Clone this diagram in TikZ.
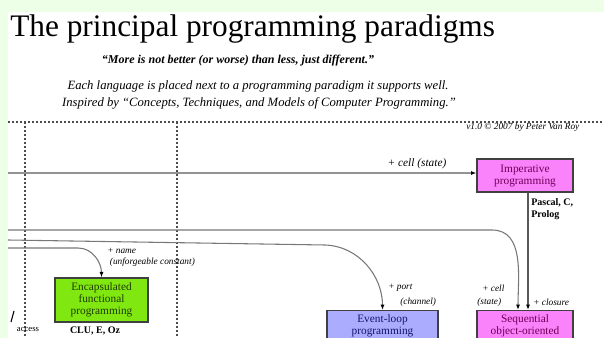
\documentclass[tikz,border=0pt]{standalone}
\usepackage{fontspec}
\setmainfont{Liberation Serif}
\usetikzlibrary{arrows.meta}

\definecolor{fon}{RGB}{238,255,232}
\definecolor{imper}{RGB}{250,130,250}
\definecolor{imperText}{RGB}{110,0,90}
\definecolor{encap}{RGB}{128,232,16}
\definecolor{encapText}{RGB}{30,60,0}
\definecolor{evloop}{RGB}{172,172,255}
\definecolor{evloopText}{RGB}{20,20,110}
\definecolor{linkGray}{RGB}{120,120,120}

\begin{document}
\begin{tikzpicture}[x=0.75pt, y=-0.75pt,
    paradigm/.style={draw=black!75, line width=1pt, align=center, inner ysep=3pt,
        font=\fontsize{8.5}{9}\selectfont},
    link/.style={draw=linkGray, line width=0.8pt, -{Latex[length=4pt,width=3pt,color=black]}},
    strong link/.style={link, line width=2.2pt, draw=gray!85},
    note/.style={font=\fontsize{7}{8}\selectfont\itshape, inner sep=0pt, align=left},
    lang/.style={font=\fontsize{7.5}{9}\selectfont\bfseries, inner sep=0pt, align=left},
    rule/.style={line width=0.8pt, black!70, dash pattern=on 1.5pt off 1.5pt}]

    % фон и рамка
    \useasboundingbox ( 0, 0 ) rectangle ( 604, 338 );
    \fill [fon] ( 0, 0 ) rectangle ( 604, 338 );
    \fill [white] ( 8, 12 ) rectangle ( 604, 338 );
    \clip ( 0, 0 ) rectangle ( 604, 338 );

    % заголовок
    \node [anchor=base west, inner sep=0pt, font=\fontsize{23.5}{26}\selectfont] (title) at ( 10, 37 ) {The principal programming paradigms};
    \node [anchor=base, inner sep=0pt, font=\fontsize{9}{10}\selectfont\bfseries\itshape] (motto) at ( 238, 64 ) {“More is not better (or worse) than less, just different.”};
    \node [anchor=base, inner sep=0pt, font=\fontsize{9.5}{10}\selectfont\itshape] (legend) at ( 258, 90 ) {Each language is placed next to a programming paradigm it supports well.};
    \node [anchor=base, inner sep=0pt, font=\fontsize{9.5}{10}\selectfont\itshape] (source) at ( 259, 107 ) {Inspired by “Concepts, Techniques, and Models of Computer Programming.”};

    % разметка
    \draw [rule] ( 8, 122 ) -- ( 604, 122 );
    \draw [rule] ( 25, 122 ) -- ( 25, 338 );
    \draw [rule] ( 177, 122 ) -- ( 177, 338 );
    \node [anchor=base west, inner sep=0pt, font=\fontsize{7}{8}\selectfont\itshape] (version) at ( 466, 130 ) {v1.0 © 2007 by Peter Van Roy};

    % парадигмы
    \node [paradigm, fill=imper, text=imperText, minimum width=72pt, minimum height=24.75pt] (imperative) at ( 525, 175.5 ) {Imperative\\programming};
    \node [paradigm, fill=encap, text=encapText, minimum width=69.75pt, minimum height=33pt] (encfun) at ( 101.5, 300 ) {Encapsulated\\functional\\programming};
    \node [paradigm, fill=evloop, text=evloopText, minimum width=83.25pt, anchor=north] (eventloop) at ( 382.5, 310 ) {Event-loop\\programming};
    \node [paradigm, fill=imper, text=imperText, minimum width=72pt, anchor=north] (seqoo) at ( 525, 310 ) {Sequential\\object-oriented};

    % языки
    \node [lang, anchor=north west] (pascal) at ( 531, 198 ) {Pascal, C,\\Prolog};
    \node [lang] (clu) at ( 95, 331 ) {CLU, E, Oz};
    \node [note, font=\fontsize{6.5}{7}\selectfont] (access) at ( 28, 330 ) {access};
    \draw [line width=0.8pt] ( 11, 322 ) -- ( 14, 311 );

    % связи
    \coordinate (cellIn) at ( 8, 173 );
    \draw [strong link] (cellIn) -- (cellIn -| imperative.west);
    \node [note, font=\fontsize{8.5}{9}\selectfont\itshape] (cellLbl) at ( 417, 164 ) {+ cell (state)};

    \draw [link, line width=1.6pt, draw=black!65] ([xshift=2.25pt]imperative.south) -- ([xshift=2.25pt]seqoo.north);
    \node [note, anchor=west] (closureLbl) at ( 533, 302 ) {+ closure};

    \coordinate (stateIn) at ( 8, 230 );
    \draw [link] (stateIn) -- ( 492, 230 ) to [ out = 0, in = 90 ] ([xshift=-5.25pt]seqoo.north);
    \node [note, anchor=west] (cellTwo) at ( 482, 288 ) {+ cell};
    \node [note, anchor=west] (stateTwo) at ( 477, 302 ) {(state)};

    \coordinate (portIn) at ( 8, 240 );
    \draw [link] (portIn) -- ( 325, 245 ) to [ out = -2, in = 90 ] (eventloop.north);
    \node [note, anchor=west] (portLbl) at ( 388, 288 ) {+ port};
    \node [note, anchor=west] (channelLbl) at ( 400, 302 ) {(channel)};

    \coordinate (nameIn) at ( 8, 248 );
    \draw [link] (nameIn) -- ( 78, 248 ) to [ out = 0, in = 90 ] (encfun.north);
    \node [note, anchor=north west] (nameLbl) at ( 107, 248 ) {+ name\\\hspace*{2pt}(unforgeable constant)};
\end{tikzpicture}
\end{document}
